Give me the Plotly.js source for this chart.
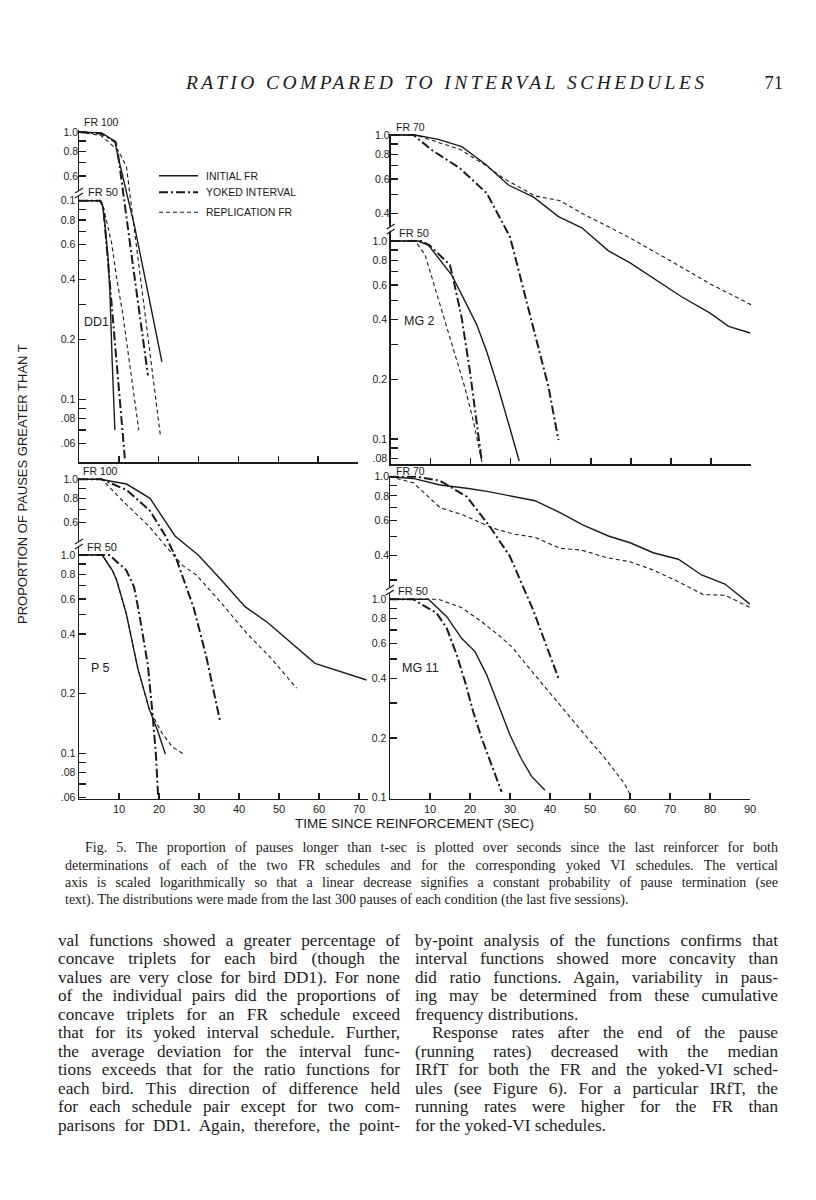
<!DOCTYPE html>
<html><head><meta charset="utf-8">
<script src="https://cdn.plot.ly/plotly-3.0.1.min.js"></script>
<style>
html,body{margin:0;padding:0;background:#fff;}
#page{position:relative;width:816px;height:1200px;overflow:hidden;background:#fff;}
#chart{position:absolute;left:0;top:0;width:816px;height:1200px;}
.tl{position:absolute;white-space:nowrap;font-family:"Liberation Serif","Times New Roman",serif;color:#1b1b1b;}
</style></head><body>
<div id="page"><div id="chart"></div></div>
<script>
// ---------------- DATA ----------------
// x ticks
const xTicksLeft = [10,20,30,40,50,60,70];
const xTextLeft = ['10','20','30','40','50','60','70'];
const xTicksRight = [10,20,30,40,50,60,70,80,90];
const xTextRight = ['10','20','30','40','50','60','70','80','90'];

// y ticks
const dd1UpperTicks = [1.0,0.9,0.8,0.7,0.6];
const dd1UpperText = ['1.0','','0.8','','0.6'];
const dd1LowerTicks = [1.0,0.9,0.8,0.7,0.6,0.5,0.4,0.3,0.2,0.1,0.09,0.08,0.07,0.06];
const dd1LowerText = ['0.1','','0.8','','0.6','','0.4','','0.2','0.1','','.08','','.06'];
const mg2UpperTicks = [1.0,0.9,0.8,0.7,0.6,0.5,0.4];
const mg2UpperText = ['1.0','','0.8','','0.6','','0.4'];
const mg2LowerTicks = [1.0,0.9,0.8,0.7,0.6,0.5,0.4,0.3,0.2,0.1,0.09,0.08];
const mg2LowerText = ['1.0','','0.8','','0.6','','0.4','','0.2','0.1','','.08'];
const p5UpperTicks = [1.0,0.9,0.8,0.7,0.6];
const p5UpperText = ['1.0','','0.8','','0.6'];
const p5LowerTicks = [1.0,0.9,0.8,0.7,0.6,0.5,0.4,0.3,0.2,0.1,0.09,0.08,0.07,0.06];
const p5LowerText = ['1.0','','0.8','','0.6','','0.4','','0.2','0.1','','.08','','.06'];
const mg11UpperTicks = [1.0,0.9,0.8,0.7,0.6,0.5,0.4,0.3];
const mg11UpperText = ['1.0','','0.8','','0.6','','0.4',''];
const mg11LowerTicks = [1.0,0.9,0.8,0.7,0.6,0.5,0.4,0.3,0.2,0.1];
const mg11LowerText = ['1.0','','0.8','','0.6','','0.4','','0.2','0.1'];

// Bird DD1, FR 100 (upper scale)
const dd1Fr100InitialT = [0, 5.7, 9.0, 9.8, 14.0, 20.8];
const dd1Fr100InitialP = [1.0, 0.99, 0.90, 0.75, 0.33, 0.069];
const dd1Fr100YokedT = [0, 5.5, 9.2, 9.8, 13.3, 17.3];
const dd1Fr100YokedP = [1.0, 0.98, 0.89, 0.77, 0.23, 0.059];
const dd1Fr100ReplT = [0, 5.5, 7.75, 10.0, 11.9, 20.4];
const dd1Fr100ReplP = [1.0, 0.96, 0.877, 0.796, 0.668, 0.0295];
// Bird DD1, FR 50 (lower scale)
const dd1Fr50InitialT = [0, 5.3, 5.9, 6.5, 7.3, 7.75, 8.3, 9.0];
const dd1Fr50InitialP = [1.0, 1.0, 0.95, 0.755, 0.513, 0.348, 0.161, 0.070];
const dd1Fr50YokedT = [0, 5.3, 6.1, 7.2, 9.2, 10.25, 11.5];
const dd1Fr50YokedP = [1.0, 1.0, 0.93, 0.513, 0.191, 0.10, 0.0504];
const dd1Fr50ReplT = [0, 5.5, 6.1, 6.9, 8.2, 9.4, 11.1, 12.0, 15.0];
const dd1Fr50ReplP = [1.0, 1.0, 0.93, 0.80, 0.61, 0.414, 0.26, 0.191, 0.070];

// Bird MG 2, FR 70 (upper scale)
const mg2Fr70InitialT = [0, 6.1, 11.9, 17.75, 23.6, 29.4, 35.7, 41.9, 47.75, 54.4, 59.8, 65.7, 72.75, 79.8, 84.4, 89.8];
const mg2Fr70InitialP = [1.0, 1.0, 0.95, 0.873, 0.714, 0.559, 0.485, 0.387, 0.34, 0.26, 0.226, 0.189, 0.152, 0.126, 0.108, 0.10];
const mg2Fr70YokedT = [0, 5.7, 10.25, 17.3, 24.0, 29.8, 33.2, 36.5, 39.4, 41.9];
const mg2Fr70YokedP = [1.0, 1.0, 0.84, 0.679, 0.508, 0.306, 0.165, 0.092, 0.0536, 0.0288];
const mg2Fr70ReplT = [0, 6.1, 17.3, 23.6, 28.2, 36.1, 42.3, 47.75, 54.4, 60.7, 70.25, 79.8, 90.0];
const mg2Fr70ReplP = [1.0, 1.0, 0.847, 0.705, 0.604, 0.492, 0.466, 0.402, 0.344, 0.295, 0.229, 0.177, 0.139];
// Bird MG 2, FR 50 (lower scale)
const mg2Fr50InitialT = [0, 6.9, 9.4, 15.25, 18.6, 21.5, 24.0, 26.9, 29.8, 32.1];
const mg2Fr50InitialP = [1.0, 1.0, 0.954, 0.673, 0.494, 0.377, 0.276, 0.180, 0.113, 0.0774];
const mg2Fr50YokedT = [0, 7.7, 9.8, 14.8, 15.6, 17.75, 19.8, 21.5, 22.1, 22.75];
const mg2Fr50YokedP = [1.0, 1.0, 0.948, 0.756, 0.648, 0.407, 0.219, 0.118, 0.093, 0.077];
const mg2Fr50ReplT = [0, 6.1, 8.6, 11.1, 13.6, 16.1, 18.6, 20.7, 22.4, 22.75];
const mg2Fr50ReplP = [1.0, 1.0, 0.85, 0.577, 0.392, 0.265, 0.18, 0.122, 0.083, 0.077];

// Bird P5, FR 100 (upper scale)
const p5Fr100InitialT = [0, 5.25, 11.9, 17.75, 24.0, 29.8, 35.25, 41.5, 47.3, 53.6, 59.0, 71.9];
const p5Fr100InitialP = [1.0, 1.0, 0.946, 0.80, 0.514, 0.411, 0.312, 0.224, 0.185, 0.143, 0.115, 0.0946];
const p5Fr100YokedT = [0, 5.7, 11.9, 17.75, 21.7, 24.2, 28.7, 31.8, 35.3];
const p5Fr100YokedP = [1.0, 1.0, 0.882, 0.69, 0.51, 0.40, 0.22, 0.125, 0.058];
const p5Fr100ReplT = [0, 5.7, 10.7, 17.6, 22.5, 25.8, 29.3, 35.5, 41.9, 47.75, 54.4];
const p5Fr100ReplP = [1.0, 1.0, 0.784, 0.573, 0.436, 0.365, 0.325, 0.235, 0.164, 0.124, 0.086];
// Bird P5, FR 50 (lower scale)
const p5Fr50InitialT = [0, 5.8, 8.3, 9.4, 11.8, 14.7, 17.6, 19.6, 21.6];
const p5Fr50InitialP = [1.0, 1.0, 0.84, 0.748, 0.508, 0.268, 0.166, 0.131, 0.099];
const p5Fr50YokedT = [0, 7.6, 11.8, 13.75, 15.1, 17.2, 18.4, 19.2, 19.8];
const p5Fr50YokedP = [1.0, 1.0, 0.84, 0.692, 0.50, 0.28, 0.157, 0.10, 0.06];
const p5Fr50ReplT = [0, 5.8, 8.3, 9.4, 11.8, 14.7, 17.6, 18.3, 20.8, 23.3, 26.2];
const p5Fr50ReplP = [1.0, 1.0, 0.84, 0.748, 0.508, 0.268, 0.166, 0.156, 0.126, 0.108, 0.099];

// Bird MG 11, FR 70 (upper scale)
const mg11Fr70InitialT = [0, 5.8, 12.5, 19.2, 24.6, 30.0, 36.25, 42.5, 48.3, 54.6, 60.0, 65.8, 72.1, 77.9, 83.75, 90.0];
const mg11Fr70InitialP = [1.0, 0.98, 0.908, 0.874, 0.84, 0.798, 0.756, 0.658, 0.569, 0.501, 0.463, 0.412, 0.382, 0.318, 0.286, 0.226];
const mg11Fr70YokedT = [0, 6.7, 12.5, 19.2, 25.0, 30.0, 35.8, 42.3];
const mg11Fr70YokedP = [1.0, 1.0, 0.954, 0.792, 0.558, 0.394, 0.211, 0.0933];
const mg11Fr70ReplT = [0, 5.8, 12.5, 18.3, 25.8, 30.8, 36.25, 42.5, 47.9, 54.2, 60.0, 65.8, 72.1, 78.3, 83.75, 90.0];
const mg11Fr70ReplP = [1.0, 0.933, 0.697, 0.64, 0.548, 0.513, 0.493, 0.434, 0.425, 0.389, 0.371, 0.337, 0.294, 0.253, 0.251, 0.218];
// Bird MG 11, FR 50 (lower scale)
const mg11Fr50InitialT = [0, 9.6, 14.2, 17.9, 21.25, 24.2, 27.1, 30.0, 32.75, 35.4, 38.75];
const mg11Fr50InitialP = [1.0, 1.0, 0.817, 0.636, 0.545, 0.415, 0.293, 0.207, 0.158, 0.128, 0.109];
const mg11Fr50YokedT = [0, 5.8, 11.7, 14.2, 16.7, 18.75, 20.8, 22.9, 25.4, 27.9];
const mg11Fr50YokedP = [1.0, 1.0, 0.85, 0.714, 0.524, 0.385, 0.271, 0.20, 0.146, 0.107];
const mg11Fr50ReplT = [0, 12.1, 17.9, 22.9, 27.1, 30.4, 35.4, 42.1, 48.75, 53.75, 58.6, 60.0];
const mg11Fr50ReplP = [1.0, 1.0, 0.908, 0.771, 0.661, 0.577, 0.435, 0.299, 0.207, 0.158, 0.118, 0.104];

const legendNames = ['INITIAL FR', 'YOKED INTERVAL', 'REPLICATION FR'];

// ---------------- LAYOUT HELPERS ----------------
const W = 816, H = 1200, INK = '#1b1b1b';
const FONT = '"Liberation Sans", Arial, Helvetica, sans-serif';
const px = v => v / W;
const py = v => 1 - v / H;
function logRange(top, bot, one, ppd) { return [-(bot - one) / ppd, (one - top) / ppd]; }

const STY = {
  initial: {color: INK, width: 1.4, dash: 'solid'},
  yoked:   {color: INK, width: 2.0, dash: '9px,3px,2px,3px'},
  repl:    {color: INK, width: 1.1, dash: '4px,3px'}
};

// panel geometry in page pixels
const panels = [
  {x0: 79,    x1: 358, xr: [0, 70],    top: 130,   bot: 462,   up1: 132,   upp: 198,   lo1: 200.7, lop: 198.6, labels: false, xt: xTicksLeft,  xtt: xTextLeft,
   ut: dd1UpperTicks, utt: dd1UpperText, lt: dd1LowerTicks, ltt: dd1LowerText, brk: 193},
  {x0: 390.7, x1: 751, xr: [0, 90],    top: 134,   bot: 464,   up1: 135,   upp: 198,   lo1: 241,   lop: 198,   labels: false, xt: xTicksRight, xtt: xTextRight,
   ut: mg2UpperTicks, utt: mg2UpperText, lt: mg2LowerTicks, ltt: mg2LowerText, brk: 229},
  {x0: 79,    x1: 368, xr: [0, 72.25], top: 478,   bot: 798.5, up1: 479.3, upp: 196,   lo1: 555,   lop: 198.3, labels: true,  xt: xTicksLeft,  xtt: xTextLeft,
   ut: p5UpperTicks, utt: p5UpperText, lt: p5LowerTicks, ltt: p5LowerText, brk: 544},
  {x0: 390,   x1: 750, xr: [0, 90],    top: 475.5, bot: 798.5, up1: 476.7, upp: 197.5, lo1: 599.3, lop: 198.4, labels: true,  xt: xTicksRight, xtt: xTextRight,
   ut: mg11UpperTicks, utt: mg11UpperText, lt: mg11LowerTicks, ltt: mg11LowerText, brk: 590}
];

const series = [
  [[dd1Fr100InitialT, dd1Fr100InitialP, 'initial', 'u'], [dd1Fr100YokedT, dd1Fr100YokedP, 'yoked', 'u'], [dd1Fr100ReplT, dd1Fr100ReplP, 'repl', 'u'],
   [dd1Fr50InitialT, dd1Fr50InitialP, 'initial', 'l'], [dd1Fr50YokedT, dd1Fr50YokedP, 'yoked', 'l'], [dd1Fr50ReplT, dd1Fr50ReplP, 'repl', 'l']],
  [[mg2Fr70InitialT, mg2Fr70InitialP, 'initial', 'u'], [mg2Fr70YokedT, mg2Fr70YokedP, 'yoked', 'u'], [mg2Fr70ReplT, mg2Fr70ReplP, 'repl', 'u'],
   [mg2Fr50InitialT, mg2Fr50InitialP, 'initial', 'l'], [mg2Fr50YokedT, mg2Fr50YokedP, 'yoked', 'l'], [mg2Fr50ReplT, mg2Fr50ReplP, 'repl', 'l']],
  [[p5Fr100InitialT, p5Fr100InitialP, 'initial', 'u'], [p5Fr100YokedT, p5Fr100YokedP, 'yoked', 'u'], [p5Fr100ReplT, p5Fr100ReplP, 'repl', 'u'],
   [p5Fr50InitialT, p5Fr50InitialP, 'initial', 'l'], [p5Fr50YokedT, p5Fr50YokedP, 'yoked', 'l'], [p5Fr50ReplT, p5Fr50ReplP, 'repl', 'l']],
  [[mg11Fr70InitialT, mg11Fr70InitialP, 'initial', 'u'], [mg11Fr70YokedT, mg11Fr70YokedP, 'yoked', 'u'], [mg11Fr70ReplT, mg11Fr70ReplP, 'repl', 'u'],
   [mg11Fr50InitialT, mg11Fr50InitialP, 'initial', 'l'], [mg11Fr50YokedT, mg11Fr50YokedP, 'yoked', 'l'], [mg11Fr50ReplT, mg11Fr50ReplP, 'repl', 'l']]
];

const layout = {
  width: W, height: H, margin: {l: 0, r: 0, t: 0, b: 0},
  paper_bgcolor: 'rgba(0,0,0,0)', plot_bgcolor: 'rgba(0,0,0,0)',
  showlegend: false, hovermode: false,
  font: {family: FONT, color: INK, size: 10.5},
  shapes: [], annotations: []
};
const traces = [];

panels.forEach((P, i) => {
  const n = i + 1;
  const xName = n === 1 ? 'x' : 'x' + n;
  const yl = 2 * n - 1, yu = 2 * n;
  const ylName = yl === 1 ? 'y' : 'y' + yl;
  const yuName = 'y' + yu;
  const dom = [py(P.bot), py(P.top)];
  layout['xaxis' + (n === 1 ? '' : n)] = {
    domain: [px(P.x0), px(P.x1)], range: P.xr, anchor: ylName,
    showline: true, linecolor: INK, linewidth: 1.5, mirror: false,
    ticks: 'inside', ticklen: 6, tickwidth: 1.3, tickcolor: INK,
    tickmode: 'array', tickvals: P.xt, ticktext: P.xtt, showticklabels: P.labels,
    tickfont: {family: FONT, size: 11, color: INK},
    showgrid: false, zeroline: false, fixedrange: true
  };
  layout['yaxis' + (yl === 1 ? '' : yl)] = {
    type: 'log', domain: dom, range: logRange(P.top, P.bot, P.lo1, P.lop), anchor: xName,
    showline: true, linecolor: INK, linewidth: 1.5,
    ticks: 'inside', ticklen: 7, tickwidth: 1.3, tickcolor: INK,
    tickmode: 'array', tickvals: P.lt, ticktext: P.ltt,
    tickfont: {family: FONT, size: 10.5, color: INK},
    showgrid: false, zeroline: false, fixedrange: true
  };
  layout['yaxis' + yu] = {
    type: 'log', domain: dom, range: logRange(P.top, P.bot, P.up1, P.upp), anchor: xName, overlaying: ylName,
    showline: false,
    ticks: 'inside', ticklen: 7, tickwidth: 1.3, tickcolor: INK,
    tickmode: 'array', tickvals: P.ut, ticktext: P.utt,
    tickfont: {family: FONT, size: 10.5, color: INK},
    showgrid: false, zeroline: false, fixedrange: true
  };
  series[i].forEach(s => {
    traces.push({
      type: 'scatter', mode: 'lines', x: s[0], y: s[1],
      xaxis: xName, yaxis: s[3] === 'u' ? yuName : ylName,
      line: Object.assign({shape: 'linear'}, STY[s[2]]), hoverinfo: 'skip'
    });
  });
  // axis break mark
  const bx = P.x0, by = P.brk;
  layout.shapes.push({type: 'rect', xref: 'paper', yref: 'paper', x0: px(bx - 2), x1: px(bx + 2), y0: py(by + 2.5), y1: py(by - 2.5),
    fillcolor: '#fff', line: {width: 0}, layer: 'above'});
  [-2.5, 2.5].forEach(o => layout.shapes.push({type: 'line', xref: 'paper', yref: 'paper',
    x0: px(bx - 4), y0: py(by + o + 2.5), x1: px(bx + 4), y1: py(by + o - 2.5), line: {color: INK, width: 1.2}, layer: 'above'}));
});

// panel labels
function ann(text, x, y, size, xanchor, extra) {
  layout.annotations.push(Object.assign({text: text, xref: 'paper', yref: 'paper', x: px(x), y: py(y),
    xanchor: xanchor || 'left', yanchor: 'middle', showarrow: false, font: {family: FONT, size: size, color: INK}}, extra || {}));
}
ann('FR 100', 82, 122, 10.5); ann('FR 50', 86, 192, 11); ann('DD1', 82, 322, 12.5);
ann('FR 70', 394, 127, 10.5); ann('FR 50', 397, 233, 11); ann('MG 2', 402, 321, 12.5);
ann('FR 100', 81, 471, 10.5); ann('FR 50', 85, 547, 11); ann('P 5', 89, 668, 12.5);
ann('FR 70', 394, 471, 10.5); ann('FR 50', 396, 591, 11); ann('MG 11', 400, 668, 12.5);

// legend
const legY = [175.7, 192.3, 212.3];
['initial', 'yoked', 'repl'].forEach((k, j) => {
  layout.shapes.push({type: 'line', xref: 'paper', yref: 'paper', x0: px(159), x1: px(198), y0: py(legY[j]), y1: py(legY[j]),
    line: {color: INK, width: STY[k].width, dash: STY[k].dash}});
  ann(legendNames[j], 204, legY[j], 10.5);
});

// axis titles
ann('PROPORTION OF PAUSES GREATER THAN T', 22, 484, 13, 'center', {textangle: -90});
ann('TIME SINCE REINFORCEMENT (SEC)', 414, 823, 13.5, 'center');

Plotly.newPlot('chart', traces, layout, {staticPlot: true, displayModeBar: false});

// ---------------- PAGE TEXT ----------------
const page = document.getElementById('page');
function textLine(str, left, width, cy, size, lead, opts) {
  opts = opts || {};
  const d = document.createElement('div');
  d.className = 'tl';
  d.textContent = str;
  d.style.left = left + 'px';
  d.style.fontSize = size + 'px';
  d.style.lineHeight = lead + 'px';
  d.style.height = lead + 'px';
  d.style.top = (cy - lead / 2) + 'px';
  if (opts.italic) d.style.fontStyle = 'italic';
  page.appendChild(d);
  if (width) {
    const w = d.getBoundingClientRect().width;
    if (opts.letter) {
      d.style.letterSpacing = ((width - w) / Math.max(1, str.length - 1)) + 'px';
    } else if (opts.justify) {
      const n = (str.match(/ /g) || []).length;
      if (n) d.style.wordSpacing = ((width - w) / n) + 'px';
    }
  }
  return d;
}
textLine('RATIO COMPARED TO INTERVAL SCHEDULES', 186, 518, 83, 19.5, 22, {italic: true, letter: true});
const pn = textLine('71', 0, 0, 83, 18.5, 22);
pn.style.left = (783 - pn.getBoundingClientRect().width) + 'px';

const captionLines = [
  'Fig. 5. The proportion of pauses longer than t-sec is plotted over seconds since the last reinforcer for both',
  'determinations of each of the two FR schedules and for the corresponding yoked VI schedules. The vertical',
  'axis is scaled logarithmically so that a linear decrease signifies a constant probability of pause termination (see',
  'text). The distributions were made from the last 300 pauses of each condition (the last five sessions).'
];
const capTop = 848, capLead = 17.2;
captionLines.forEach((s, k) => {
  const left = k === 0 ? 85 : 65;
  textLine(s, left, k === 3 ? 0 : 778 - left, capTop + k * capLead, 14, capLead, {justify: true});
});

const leftCol = [
  'val functions showed a greater percentage of',
  'concave triplets for each bird (though the',
  'values are very close for bird DD1). For none',
  'of the individual pairs did the proportions of',
  'concave triplets for an FR schedule exceed',
  'that for its yoked interval schedule. Further,',
  'the average deviation for the interval func-',
  'tions exceeds that for the ratio functions for',
  'each bird. This direction of difference held',
  'for each schedule pair except for two com-',
  'parisons for DD1. Again, therefore, the point-'
];
const rightCol = [
  'by-point analysis of the functions confirms that',
  'interval functions showed more concavity than',
  'did ratio functions. Again, variability in paus-',
  'ing may be determined from these cumulative',
  'frequency distributions.',
  'Response rates after the end of the pause',
  '(running rates) decreased with the median',
  'IRfT for both the FR and the yoked-VI sched-',
  'ules (see Figure 6). For a particular IRfT, the',
  'running rates were higher for the FR than',
  'for the yoked-VI schedules.'
];
const bodyTop = 941, bodyLead = 18.5, bodySize = 17.2;
leftCol.forEach((s, k) => textLine(s, 58, 400 - 58, bodyTop + k * bodyLead, bodySize, bodyLead, {justify: true}));
rightCol.forEach((s, k) => {
  const last = (k === 4 || k === 10);
  const left = k === 5 ? 432 : 415;
  textLine(s, left, last ? 0 : 778 - left, bodyTop + k * bodyLead, bodySize, bodyLead, {justify: true});
});
</script>
</body></html>
